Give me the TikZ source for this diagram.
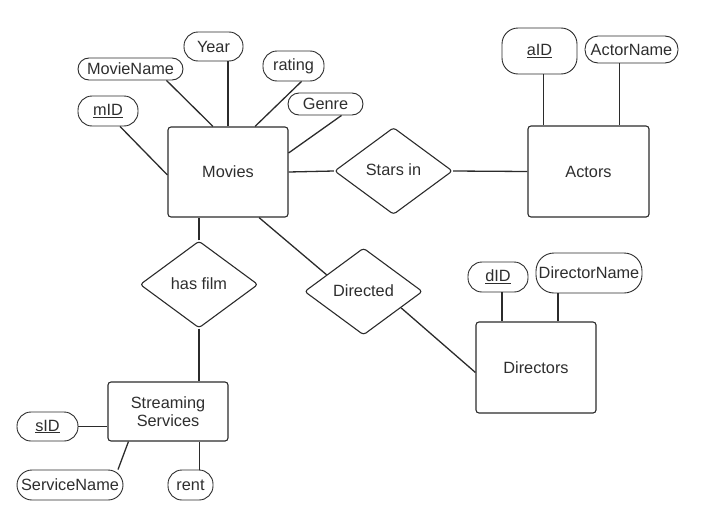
\documentclass[tikz,border=0pt]{standalone}
\usepackage{fontspec}
\setmainfont{Liberation Sans}
\usetikzlibrary{shapes.geometric,calc}
\definecolor{ink}{HTML}{2B2B2B}
\definecolor{txt}{HTML}{2E2E2E}
\begin{document}
\begin{tikzpicture}[x=1pt,y=-1pt,
  every node/.style={font=\fontsize{16.3}{18.5}\selectfont, text=txt, inner sep=0pt},
  entity/.style={draw=ink, line width=1.1pt, rounded corners=3pt, minimum width=120pt, minimum height=90pt},
  attr/.style={draw=ink, line width=0.9pt, rounded corners=#1},
  attr/.default=14pt,
  rel/.style={draw=ink, line width=1.1pt, diamond, rounded corners=3pt, minimum width=118pt, minimum height=87pt},
  conn/.style={draw=ink, line width=1.3pt}
]
\useasboundingbox (0,0) rectangle (703,522);
% entities
\node[entity] (mov) at (228,172) {Movies};
\node[entity, minimum width=121pt, minimum height=91pt] (act) at (588.5,171.5) {Actors};
\node[entity, minimum width=120pt, minimum height=59pt, align=center] (ss) at (168,411.5) {Streaming\\Services};
\node[entity, minimum width=120pt, minimum height=91pt] (drs) at (536,367.5) {Directors};
% relationships
\node[rel] (stars) at (393.5,171) {\raisebox{3pt}{Stars in}};
\node[rel] (film) at (199,284.5) {\raisebox{2pt}{has film}};
\node[rel] (dir) at (363.5,291.5) {\raisebox{2pt}{Directed}};
% attributes
\node[attr, minimum width=59pt, minimum height=29pt] (year) at (213.5,46.5) {Year};
\node[attr=11pt, minimum width=105pt, minimum height=22pt] (mn) at (130.5,69) {MovieName};
\node[attr, minimum width=61pt, minimum height=30pt] (rat) at (293.5,66) {rating};
\node[attr=11pt, minimum width=75pt, minimum height=22pt] (genre) at (325.5,104) {Genre};
\node[attr, minimum width=60pt, minimum height=30pt] (mid) at (108,111) {\underline{mID}};
\node[attr=16pt, minimum width=75pt, minimum height=46pt] (aid) at (539.5,51) {\underline{aID}};
\node[attr=13pt, minimum width=93pt, minimum height=27pt] (an) at (631.5,49.5) {ActorName};
\node[attr, minimum width=60pt, minimum height=30pt] (did) at (498,277) {\underline{dID}};
\node[attr=18pt, minimum width=106pt, minimum height=40pt] (dn) at (589,273) {DirectorName};
\node[attr, minimum width=61pt, minimum height=29pt] (sid) at (47.5,426.5) {\underline{sID}};
\node[attr=15pt, minimum width=106pt, minimum height=30pt] (sn) at (70,485) {ServiceName};
\node[attr, minimum width=45pt, minimum height=30pt] (rent) at (190.5,485) {rent};
% connectors: Movies attributes
\draw[conn] (mov.north) -- (mov.north |- year.south);
\draw[conn] ([xshift=36pt]mn.south) -- ([xshift=-15pt]mov.north);
\draw[conn] ([xshift=8pt]rat.south) -- ([xshift=27pt]mov.north);
\draw[conn] ([xshift=16pt]genre.south) -- ([yshift=19pt]mov.east);
\draw[conn] ([xshift=12pt]mid.south) -- ([yshift=-3pt]mov.west);
% relationships
\draw[conn] (mov.east) -- (stars.west);
\draw[conn] (stars.east) -- (act.west);
\draw[conn] (film.north) -- (film.north |- mov.south);
\draw[conn] (film.south) -- (film.south |- ss.north);
\draw[conn] ([xshift=31pt]mov.south) -- ($(dir.west)!0.38!(dir.north)$);
\draw[conn] ($(dir.east)!0.37!(dir.south)$) -- ([yshift=-5pt]drs.west);
% Actors attributes
\draw[conn] ([xshift=4pt]aid.south) -- ([xshift=4pt]aid.south |- act.north);
\draw[conn] ([xshift=-12pt]an.south) -- ([xshift=-12pt]an.south |- act.north);
% Directors attributes
\draw[conn] ([xshift=4pt]did.south) -- ([xshift=4pt]did.south |- drs.north);
\draw[conn] ([xshift=-31pt]dn.south) -- ([xshift=-31pt]dn.south |- drs.north);
% Streaming attributes
\draw[conn] (sid.east) -- (sid.east -| ss.west);
\draw[conn] ([xshift=48pt]sn.north) -- ([xshift=21pt]ss.south west);
\draw[conn] ([xshift=9pt]rent.north) -- ([xshift=9pt]rent.north |- ss.south);
\end{tikzpicture}
\end{document}
